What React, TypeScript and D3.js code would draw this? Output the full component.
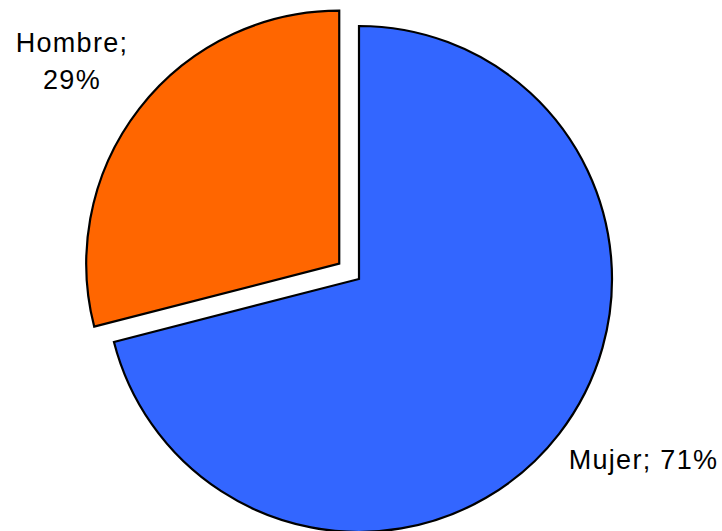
import React from "react";
import * as d3 from "d3";

const categories = ["Mujer", "Hombre"];
const values = [71, 29];
const colors = ["#3366FF", "#FF6600"];
const exploded = [0, 25];

export default function App() {
  const width = 722;
  const height = 531;
  const cx = 359;
  const cy = 279;
  const r = 253;
  const pie = d3.pie<number>().sort(null).value((d) => d);
  const arcs = pie(values);
  const arcGen = d3.arc<d3.PieArcDatum<number>>().innerRadius(0).outerRadius(r);
  const font = "'Liberation Sans', Arial, sans-serif";
  const ls = 1.3;
  return (
    <svg width={width} height={height} style={{ position: "absolute", left: 0, top: 0 }}>
      <rect width={width} height={height} fill="#fff" />
      <g transform={`translate(${cx},${cy})`}>
        {arcs.map((a, i) => {
          const mid = (a.startAngle + a.endAngle) / 2;
          const dx = Math.sin(mid) * exploded[i];
          const dy = -Math.cos(mid) * exploded[i];
          return (
            <path
              key={categories[i]}
              d={arcGen(a) || ""}
              transform={`translate(${dx},${dy})`}
              fill={colors[i]}
              stroke="#000"
              strokeWidth={2.2}
              strokeLinejoin="miter"
            />
          );
        })}
      </g>
      <text x={643.5} y={469} fontFamily={font} fontSize={27} letterSpacing={ls} textAnchor="middle" fill="#000">
        {`${categories[0]}; ${values[0]}%`}
      </text>
      <text x={72} y={52} fontFamily={font} fontSize={27} letterSpacing={ls} textAnchor="middle" fill="#000">
        {`${categories[1]};`}
      </text>
      <text x={72} y={89} fontFamily={font} fontSize={27} letterSpacing={ls} textAnchor="middle" fill="#000">
        {`${values[1]}%`}
      </text>
    </svg>
  );
}
